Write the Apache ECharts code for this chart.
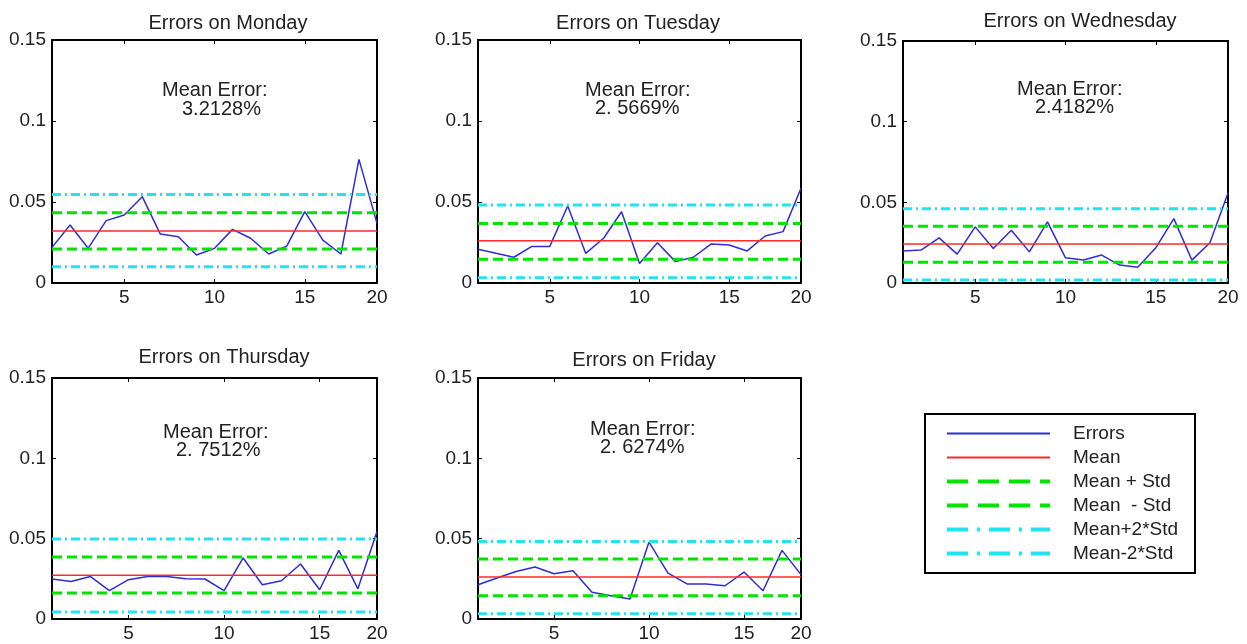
<!DOCTYPE html>
<html>
<head>
<meta charset="utf-8">
<script src="https://cdn.jsdelivr.net/npm/echarts@6/dist/echarts.min.js"></script>
<style>
  html, body { margin: 0; padding: 0; background: #fff; }
  #main { width: 1247px; height: 644px; }
</style>
</head>
<body>
<div id="main"></div>
<script>
// data
var days = ['Monday', 'Tuesday', 'Wednesday', 'Thursday', 'Friday'];
var meanErrorText = ['3.2128%', '2. 5669%', '2.4182%', '2. 7512%', '2. 6274%'];

var errMonday = [0.0220, 0.0358, 0.0214, 0.0385, 0.0420, 0.0533, 0.0302, 0.0286, 0.0173, 0.0214,
                 0.0331, 0.0276, 0.0179, 0.0228, 0.0440, 0.0265, 0.0179, 0.0763, 0.0368];
var errTuesday = [0.0208, 0.0183, 0.0159, 0.0226, 0.0226, 0.0475, 0.0183, 0.0276, 0.0440, 0.0121,
                  0.0249, 0.0132, 0.0159, 0.0241, 0.0235, 0.0198, 0.0290, 0.0317, 0.0585];
var errWednesday = [0.0198, 0.0204, 0.0280, 0.0179, 0.0348, 0.0214, 0.0327, 0.0193, 0.0379, 0.0156,
                    0.0142, 0.0173, 0.0111, 0.0097, 0.0218, 0.0399, 0.0142, 0.0249, 0.0558];
var errThursday = [0.0249, 0.0234, 0.0265, 0.0176, 0.0245, 0.0265, 0.0265, 0.0251, 0.0249, 0.0176,
                   0.0380, 0.0213, 0.0238, 0.0342, 0.0182, 0.0427, 0.0188, 0.0545];
var errFriday = [0.0213, 0.0255, 0.0296, 0.0324, 0.0282, 0.0300, 0.0166, 0.0145, 0.0124, 0.0479,
                 0.0286, 0.0218, 0.0218, 0.0207, 0.0292, 0.0176, 0.0427, 0.0276];
var errors = [errMonday, errTuesday, errWednesday, errThursday, errFriday];

var meanLevel = [0.0321, 0.0261, 0.0241, 0.0273, 0.0261];
var plusStd   = [0.0434, 0.0368, 0.0352, 0.0386, 0.0373];
var minusStd  = [0.0210, 0.0146, 0.0128, 0.0162, 0.0145];
var plus2Std  = [0.0546, 0.0481, 0.0461, 0.0498, 0.0483];
var minus2Std = [0.0101, 0.0033, 0.0019, 0.0044, 0.0033];

var xTickLabels = ['5', '10', '15', '20'];
var legendNames = ['Errors', 'Mean', 'Mean + Std', 'Mean  - Std', 'Mean+2*Std', 'Mean-2*Std'];

// layout of the five panels
var panels = [
  { left: 52,  top: 40,  width: 325, height: 243, titleX: 228,  titleY: 23,  m1x: 162,  m1y: 90,  m2x: 182,  m2y: 109 },
  { left: 478, top: 40,  width: 323, height: 243, titleX: 638,  titleY: 23,  m1x: 585,  m1y: 90,  m2x: 595,  m2y: 108 },
  { left: 903, top: 41,  width: 325, height: 242, titleX: 1080, titleY: 21,  m1x: 1017, m1y: 89,  m2x: 1035, m2y: 107 },
  { left: 52,  top: 378, width: 325, height: 241, titleX: 224,  titleY: 357, m1x: 163,  m1y: 432, m2x: 176,  m2y: 450 },
  { left: 478, top: 378, width: 323, height: 241, titleX: 644,  titleY: 360, m1x: 590,  m1y: 429, m2x: 600,  m2y: 447 }
];

var font = '"Liberation Sans", Arial, sans-serif';
var textColor = '#222';
var blue = '#2e2ed8', red = '#ff2a2a', green = '#00e400', cyan = '#20e4f2';

var grids = [], xAxes = [], yAxes = [], series = [], graphics = [];

panels.forEach(function (p, i) {
  var n = errors[i].length;
  var tickPos = [5, 10, 15, n];
  grids.push({ left: p.left, top: p.top, width: p.width, height: p.height, outerBoundsMode: 'none' });

  // bottom x axis
  xAxes.push({
    type: 'value', gridIndex: i, min: 1, max: n, position: 'bottom',
    axisLine: { onZero: false, lineStyle: { color: '#000', width: 2 } },
    axisTick: { inside: true, length: 4, customValues: [5, 10, 15], lineStyle: { color: '#000' } },
    axisLabel: {
      customValues: tickPos, margin: 5, color: textColor, fontSize: 19, fontFamily: font,
      formatter: function (v) { return xTickLabels[tickPos.indexOf(v)]; }
    },
    splitLine: { show: false }
  });
  // top x axis (box)
  xAxes.push({
    type: 'value', gridIndex: i, min: 1, max: n, position: 'top',
    axisLine: { onZero: false, lineStyle: { color: '#000', width: 2 } },
    axisTick: { inside: true, length: 4, customValues: [5, 10, 15], lineStyle: { color: '#000' } },
    axisLabel: { show: false },
    splitLine: { show: false }
  });
  // left y axis
  yAxes.push({
    type: 'value', gridIndex: i, min: 0, max: 0.15, interval: 0.05, position: 'left',
    axisLine: { show: true, onZero: false, lineStyle: { color: '#000', width: 2 } },
    axisTick: { show: true, inside: true, length: 4, lineStyle: { color: '#000' } },
    axisLabel: { margin: 6, color: textColor, fontSize: 19, fontFamily: font },
    splitLine: { show: false }
  });
  // right y axis (box)
  yAxes.push({
    type: 'value', gridIndex: i, min: 0, max: 0.15, interval: 0.05, position: 'right',
    axisLine: { show: true, onZero: false, lineStyle: { color: '#000', width: 2 } },
    axisTick: { show: true, inside: true, length: 4, lineStyle: { color: '#000' } },
    axisLabel: { show: false },
    splitLine: { show: false }
  });

  var xi = i * 2, yi = i * 2;
  series.push({
    name: legendNames[0], type: 'line', xAxisIndex: xi, yAxisIndex: yi,
    data: errors[i].map(function (v, k) { return [k + 1, v]; }),
    symbol: 'none', itemStyle: { color: blue }, lineStyle: { color: blue, width: 1.5 }
  });
  function level(name, value, color, width, dash) {
    series.push({
      name: name, type: 'line', xAxisIndex: xi, yAxisIndex: yi,
      data: [[1, value], [n, value]], symbol: 'none',
      itemStyle: { color: color }, lineStyle: { color: color, width: width, type: dash }
    });
  }
  level(legendNames[1], meanLevel[i], red, 1.5, 'solid');
  level(legendNames[2], plusStd[i], green, 3, [10, 5]);
  level(legendNames[3], minusStd[i], green, 3, [10, 5]);
  level(legendNames[4], plus2Std[i], cyan, 3, [9, 4, 2, 4]);
  level(legendNames[5], minus2Std[i], cyan, 3, [9, 4, 2, 4]);

  graphics.push({
    type: 'text', x: p.titleX, y: p.titleY,
    style: { text: 'Errors on ' + days[i], font: '20px ' + font, fill: textColor, textAlign: 'center', textVerticalAlign: 'middle' }
  });
  graphics.push({
    type: 'text', x: p.m1x, y: p.m1y,
    style: { text: 'Mean Error:', font: '20px ' + font, fill: textColor, textAlign: 'left', textVerticalAlign: 'middle' }
  });
  graphics.push({
    type: 'text', x: p.m2x, y: p.m2y,
    style: { text: meanErrorText[i], font: '20px ' + font, fill: textColor, textAlign: 'left', textVerticalAlign: 'middle' }
  });
});

// legend frame
graphics.push({
  type: 'rect', shape: { x: 925, y: 414, width: 270, height: 159 },
  style: { fill: '#fff', stroke: '#000', lineWidth: 2 }, z: -1
});

// legend samples are drawn a bit heavier than the plot lines
var legendData = [
  { name: legendNames[0] },
  { name: legendNames[1] },
  { name: legendNames[2], lineStyle: { width: 4, type: [21, 10] } },
  { name: legendNames[3], lineStyle: { width: 4, type: [21, 10] } },
  { name: legendNames[4], lineStyle: { width: 4, type: [21, 9, 3, 9] } },
  { name: legendNames[5], lineStyle: { width: 4, type: [21, 9, 3, 9] } }
];

var myChart = echarts.init(document.getElementById('main'));
myChart.setOption({
  animation: false,
  backgroundColor: '#fff',
  grid: grids,
  xAxis: xAxes,
  yAxis: yAxes,
  legend: {
    data: legendData, orient: 'vertical', left: 945, top: 424, padding: 0,
    itemWidth: 103, itemHeight: 14, itemGap: 5, selectedMode: false,
    itemStyle: { opacity: 0 },
    textStyle: { fontSize: 19, fontFamily: font, color: textColor, lineHeight: 14, padding: [0, 0, 0, 18] }
  },
  graphic: graphics,
  series: series
});
</script>
</body>
</html>
